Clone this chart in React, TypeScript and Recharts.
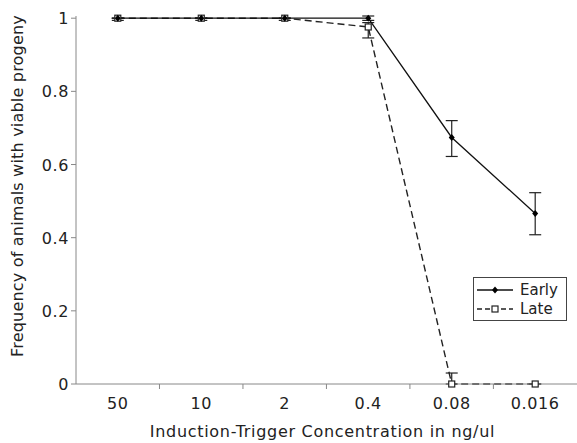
import { LineChart, Line, XAxis, YAxis, ErrorBar } from "recharts";

const concentrations = ["50", "10", "2", "0.4", "0.08", "0.016"];
const earlyValues = [1, 1, 1, 1, 0.674, 0.466];
const earlyErrors = [[0, 0], [0, 0], [0, 0], [0.006, 0.006], [0.052, 0.046], [0.058, 0.057]];
const lateValues = [1, 1, 1, 0.976, 0, 0];
const lateErrors = [[0.006, 0], [0.006, 0], [0.006, 0], [0.03, 0.012], [0, 0.03], [0, 0]];
const yTicks = [0, 0.2, 0.4, 0.6, 0.8, 1];

const data = concentrations.map((c, i) => ({
  conc: c,
  early: earlyValues[i],
  earlyErr: earlyErrors[i],
  late: lateValues[i],
  lateErr: lateErrors[i],
}));

const FONT = "'DejaVu Sans', Verdana, sans-serif";
const BAND = 83.6;

const XTick = (props: any) => {
  const { x, y, payload, index } = props;
  return (
    <g>
      {index > 0 && <line x1={x - BAND / 2} x2={x - BAND / 2} y1={y - 8} y2={y - 3} stroke="#888" />}
      <text x={x} y={y + 17} textAnchor="middle" fontSize={16} letterSpacing={0.6} fontFamily={FONT} fill="#222">
        {payload.value}
      </text>
    </g>
  );
};

const YTick = (props: any) => {
  const { x, y, payload } = props;
  return (
    <text x={x} y={y + 6} textAnchor="end" fontSize={16} letterSpacing={0.6} fontFamily={FONT} fill="#222">
      {String(payload.value)}
    </text>
  );
};

const YLabel = (props: any) => {
  const { viewBox } = props;
  const cx = viewBox.x + 17;
  const cy = viewBox.y + viewBox.height / 2 - 14;
  return (
    <text x={cx} y={cy} transform={`rotate(-90, ${cx}, ${cy})`} textAnchor="middle" dominantBaseline="central" fontSize={16} letterSpacing={0.2} fontFamily={FONT} fill="#222">
      Frequency of animals with viable progeny
    </text>
  );
};

const XLabel = (props: any) => {
  const { viewBox } = props;
  return (
    <text x={viewBox.x + viewBox.width / 2 - 4} y={437} textAnchor="middle" fontSize={16} letterSpacing={0.7} fontFamily={FONT} fill="#222">
      Induction-Trigger Concentration in ng/ul
    </text>
  );
};

const Diamond = (props: any) => {
  const { cx, cy } = props;
  if (cx == null || cy == null) return null;
  return <path d={`M${cx},${cy - 3.5}L${cx + 3},${cy}L${cx},${cy + 3.5}L${cx - 3},${cy}Z`} fill="#000" />;
};

const Square = (props: any) => {
  const { cx, cy } = props;
  if (cx == null || cy == null) return null;
  return <rect x={cx - 3} y={cy - 3} width={6} height={6} fill="#fff" stroke="#222" strokeWidth={1.2} />;
};

const LegendBox = () => (
  <svg width={95} height={45} style={{ position: "absolute", left: 473, top: 277 }}>
    <rect x={0.5} y={0.5} width={93} height={43} fill="#fff" stroke="#444" />
    <line x1={4} x2={40} y1={13} y2={13} stroke="#111" strokeWidth={1.3} />
    <path d="M22,9.5L25,13L22,16.5L19,13Z" fill="#000" />
    <text x={47} y={18} fontSize={15} fontFamily={FONT} fill="#222">Early</text>
    <line x1={4} x2={40} y1={32} y2={32} stroke="#222" strokeWidth={1.3} strokeDasharray="5 3" />
    <rect x={19} y={29} width={6} height={6} fill="#fff" stroke="#222" strokeWidth={1.2} />
    <text x={47} y={37} fontSize={15} fontFamily={FONT} fill="#222">Late</text>
  </svg>
);

export default function App() {
  return (
    <div style={{ position: "absolute", left: 0, top: 0, width: 577, height: 443, background: "#fff" }}>
      <LineChart width={577} height={443} data={data} margin={{ top: 16, right: 0, left: 0, bottom: 0 }}>
        <XAxis
          dataKey="conc"
          height={59}
          padding={{ left: BAND / 2, right: BAND / 2 }}
          stroke="#888"
          tickLine={false}
          tick={<XTick />}
          interval={0}
          label={<XLabel />}
        />
        <YAxis
          width={76}
          domain={[0, 1]}
          ticks={yTicks}
          stroke="#888"
          tickSize={5}
          tick={<YTick />}
          label={<YLabel />}
        />
        <Line
          dataKey="late"
          stroke="#222"
          strokeWidth={1.4}
          strokeDasharray="7 4"
          dot={<Square />}
          isAnimationActive={false}
        >
          <ErrorBar dataKey="lateErr" direction="y" width={6} stroke="#222" strokeWidth={1.2} />
        </Line>
        <Line
          dataKey="early"
          stroke="#111"
          strokeWidth={1.3}
          dot={<Diamond />}
          isAnimationActive={false}
        >
          <ErrorBar dataKey="earlyErr" direction="y" width={6} stroke="#222" strokeWidth={1.2} />
        </Line>
      </LineChart>
      <LegendBox />
    </div>
  );
}
